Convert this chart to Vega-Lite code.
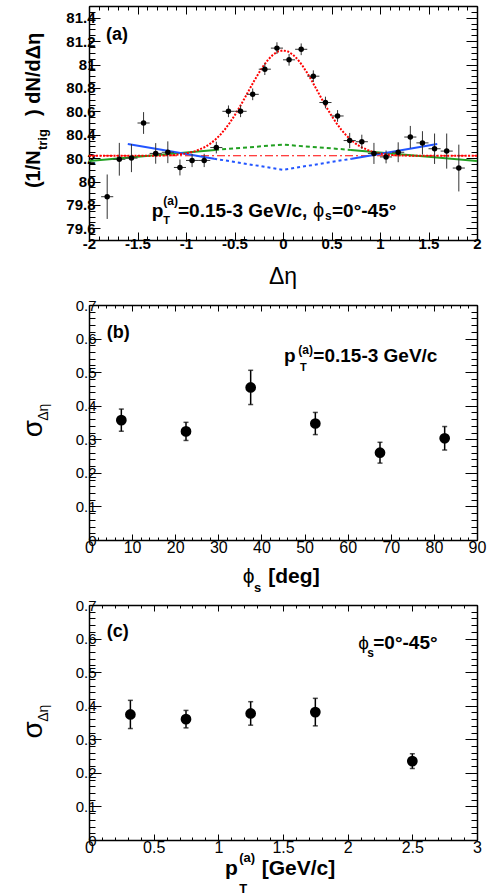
{
"$schema": "https://vega.github.io/schema/vega-lite/v6.json",
"autosize": {"type": "none"},
"padding": {"left": 89, "top": 6, "right": 406, "bottom": 890},
"spacing": 65,
"bounds": "flush",
"config": {
  "view": {"stroke": null},
  "axis": {"grid": false, "domainColor": "black", "domainWidth": 1.5, "tickColor": "black", "tickWidth": 1, "labelColor": "black", "labelFont": "Liberation Sans", "labelFlush": false, "labelOverlap": false, "zindex": 1}
},
"datasets": {
  "apts": [
    {"eta": -1.8125, "v": 79.87, "e": 0.19, "xe": 0.0625},
    {"eta": -1.6875, "v": 80.19, "e": 0.14, "xe": 0.0625},
    {"eta": -1.5625, "v": 80.20, "e": 0.12, "xe": 0.0625},
    {"eta": -1.4375, "v": 80.50, "e": 0.093, "xe": 0.0625},
    {"eta": -1.3125, "v": 80.24, "e": 0.088, "xe": 0.0625},
    {"eta": -1.1875, "v": 80.25, "e": 0.093, "xe": 0.0625},
    {"eta": -1.0625, "v": 80.12, "e": 0.068, "xe": 0.0625},
    {"eta": -0.9375, "v": 80.18, "e": 0.057, "xe": 0.0625},
    {"eta": -0.8125, "v": 80.18, "e": 0.057, "xe": 0.0625},
    {"eta": -0.6875, "v": 80.29, "e": 0.05, "xe": 0.0625},
    {"eta": -0.5625, "v": 80.60, "e": 0.05, "xe": 0.0625},
    {"eta": -0.4375, "v": 80.60, "e": 0.05, "xe": 0.0625},
    {"eta": -0.3125, "v": 80.745, "e": 0.05, "xe": 0.0625},
    {"eta": -0.1875, "v": 80.96, "e": 0.05, "xe": 0.0625},
    {"eta": -0.0625, "v": 81.14, "e": 0.05, "xe": 0.0625},
    {"eta": 0.0625, "v": 81.04, "e": 0.05, "xe": 0.0625},
    {"eta": 0.1875, "v": 81.13, "e": 0.05, "xe": 0.0625},
    {"eta": 0.3125, "v": 80.90, "e": 0.05, "xe": 0.0625},
    {"eta": 0.4375, "v": 80.675, "e": 0.05, "xe": 0.0625},
    {"eta": 0.5625, "v": 80.56, "e": 0.05, "xe": 0.0625},
    {"eta": 0.6875, "v": 80.35, "e": 0.065, "xe": 0.0625},
    {"eta": 0.8125, "v": 80.34, "e": 0.06, "xe": 0.0625},
    {"eta": 0.9375, "v": 80.24, "e": 0.09, "xe": 0.0625},
    {"eta": 1.0625, "v": 80.21, "e": 0.055, "xe": 0.0625},
    {"eta": 1.1875, "v": 80.25, "e": 0.085, "xe": 0.0625},
    {"eta": 1.3125, "v": 80.38, "e": 0.095, "xe": 0.0625},
    {"eta": 1.4375, "v": 80.33, "e": 0.1, "xe": 0.0625},
    {"eta": 1.5625, "v": 80.28, "e": 0.13, "xe": 0.0625},
    {"eta": 1.6875, "v": 80.26, "e": 0.15, "xe": 0.0625},
    {"eta": 1.8125, "v": 80.115, "e": 0.2, "xe": 0.0625}
  ],
  "acurves": [
    {"c": "const", "part": "all", "eta": -2, "v": 80.22},
    {"c": "const", "part": "all", "eta": 2, "v": 80.22},
    {"c": "fit", "part": "all", "eta": -2, "v": 80.22},
    {"c": "fit", "part": "all", "eta": -1.6, "v": 80.22},
    {"c": "fit", "part": "all", "eta": -1.3, "v": 80.221},
    {"c": "fit", "part": "all", "eta": -1.2, "v": 80.2235},
    {"c": "fit", "part": "all", "eta": -1.1, "v": 80.228},
    {"c": "fit", "part": "all", "eta": -1.0, "v": 80.239},
    {"c": "fit", "part": "all", "eta": -0.9, "v": 80.26},
    {"c": "fit", "part": "all", "eta": -0.8, "v": 80.296},
    {"c": "fit", "part": "all", "eta": -0.75, "v": 80.323},
    {"c": "fit", "part": "all", "eta": -0.7, "v": 80.356},
    {"c": "fit", "part": "all", "eta": -0.65, "v": 80.396},
    {"c": "fit", "part": "all", "eta": -0.6, "v": 80.444},
    {"c": "fit", "part": "all", "eta": -0.55, "v": 80.5},
    {"c": "fit", "part": "all", "eta": -0.5, "v": 80.563},
    {"c": "fit", "part": "all", "eta": -0.45, "v": 80.632},
    {"c": "fit", "part": "all", "eta": -0.4, "v": 80.705},
    {"c": "fit", "part": "all", "eta": -0.35, "v": 80.781},
    {"c": "fit", "part": "all", "eta": -0.3, "v": 80.856},
    {"c": "fit", "part": "all", "eta": -0.25, "v": 80.927},
    {"c": "fit", "part": "all", "eta": -0.2, "v": 80.991},
    {"c": "fit", "part": "all", "eta": -0.15, "v": 81.045},
    {"c": "fit", "part": "all", "eta": -0.1, "v": 81.086},
    {"c": "fit", "part": "all", "eta": -0.05, "v": 81.111},
    {"c": "fit", "part": "all", "eta": 0, "v": 81.12},
    {"c": "fit", "part": "all", "eta": 0.05, "v": 81.111},
    {"c": "fit", "part": "all", "eta": 0.1, "v": 81.086},
    {"c": "fit", "part": "all", "eta": 0.15, "v": 81.045},
    {"c": "fit", "part": "all", "eta": 0.2, "v": 80.991},
    {"c": "fit", "part": "all", "eta": 0.25, "v": 80.927},
    {"c": "fit", "part": "all", "eta": 0.3, "v": 80.856},
    {"c": "fit", "part": "all", "eta": 0.35, "v": 80.781},
    {"c": "fit", "part": "all", "eta": 0.4, "v": 80.705},
    {"c": "fit", "part": "all", "eta": 0.45, "v": 80.632},
    {"c": "fit", "part": "all", "eta": 0.5, "v": 80.563},
    {"c": "fit", "part": "all", "eta": 0.55, "v": 80.5},
    {"c": "fit", "part": "all", "eta": 0.6, "v": 80.444},
    {"c": "fit", "part": "all", "eta": 0.65, "v": 80.396},
    {"c": "fit", "part": "all", "eta": 0.7, "v": 80.356},
    {"c": "fit", "part": "all", "eta": 0.75, "v": 80.323},
    {"c": "fit", "part": "all", "eta": 0.8, "v": 80.296},
    {"c": "fit", "part": "all", "eta": 0.9, "v": 80.26},
    {"c": "fit", "part": "all", "eta": 1.0, "v": 80.239},
    {"c": "fit", "part": "all", "eta": 1.1, "v": 80.228},
    {"c": "fit", "part": "all", "eta": 1.2, "v": 80.2235},
    {"c": "fit", "part": "all", "eta": 1.3, "v": 80.221},
    {"c": "fit", "part": "all", "eta": 1.6, "v": 80.22},
    {"c": "fit", "part": "all", "eta": 2, "v": 80.22},
    {"c": "green", "part": "outL", "eta": -2, "v": 80.175},
    {"c": "green", "part": "outL", "eta": -0.7, "v": 80.27},
    {"c": "green", "part": "in", "eta": -0.7, "v": 80.27},
    {"c": "green", "part": "in", "eta": 0, "v": 80.315},
    {"c": "green", "part": "in", "eta": 0.7, "v": 80.27},
    {"c": "green", "part": "outR", "eta": 0.7, "v": 80.27},
    {"c": "green", "part": "outR", "eta": 2, "v": 80.175},
    {"c": "blue", "part": "outL", "eta": -1.6, "v": 80.32},
    {"c": "blue", "part": "outL", "eta": -0.71, "v": 80.195},
    {"c": "blue", "part": "in", "eta": -0.71, "v": 80.195},
    {"c": "blue", "part": "in", "eta": 0, "v": 80.1},
    {"c": "blue", "part": "in", "eta": 0.71, "v": 80.195},
    {"c": "blue", "part": "outR", "eta": 0.71, "v": 80.195},
    {"c": "blue", "part": "outR", "eta": 1.59, "v": 80.32}
  ],
  "bpts": [
    {"phi": 7.5, "s": 0.357, "e": 0.033},
    {"phi": 22.5, "s": 0.3235, "e": 0.027},
    {"phi": 37.5, "s": 0.4545, "e": 0.051},
    {"phi": 52.5, "s": 0.347, "e": 0.033},
    {"phi": 67.5, "s": 0.26, "e": 0.031},
    {"phi": 82.5, "s": 0.303, "e": 0.035}
  ],
  "cpts": [
    {"pt": 0.32, "s": 0.374, "e": 0.042},
    {"pt": 0.75, "s": 0.36, "e": 0.026},
    {"pt": 1.25, "s": 0.377, "e": 0.035},
    {"pt": 1.75, "s": 0.381, "e": 0.041},
    {"pt": 2.5, "s": 0.235, "e": 0.022}
  ]
},
"vconcat": [
{
  "width": 388, "height": 234,
  "resolve": {"axis": {"x": "independent", "y": "independent"}},
  "layer": [
    {"data": {"name": "acurves"}, "transform": [{"filter": "datum.c == 'const'"}],
     "mark": {"type": "line", "color": "#ff0000", "strokeWidth": 1, "strokeDash": [8, 3, 2, 3]},
     "encoding": {"x": {"field": "eta", "type": "quantitative", "scale": {"domain": [-2, 2], "nice": false, "zero": false}, "axis": null},
                  "y": {"field": "v", "type": "quantitative", "scale": {"domain": [79.5, 81.5], "nice": false, "zero": false}, "axis": null}}},
    {"data": {"name": "acurves"}, "transform": [{"filter": "datum.c == 'green' && datum.part != 'in'"}],
     "mark": {"type": "line", "color": "#22a022", "strokeWidth": 2},
     "encoding": {"x": {"field": "eta", "type": "quantitative", "scale": {"domain": [-2, 2], "nice": false, "zero": false}, "axis": null},
                  "y": {"field": "v", "type": "quantitative", "scale": {"domain": [79.5, 81.5], "nice": false, "zero": false}, "axis": null},
                  "detail": {"field": "part"}}},
    {"data": {"name": "acurves"}, "transform": [{"filter": "datum.c == 'green' && datum.part == 'in'"}],
     "mark": {"type": "line", "color": "#22a022", "strokeWidth": 2, "strokeDash": [4, 3]},
     "encoding": {"x": {"field": "eta", "type": "quantitative", "scale": {"domain": [-2, 2], "nice": false, "zero": false}, "axis": null},
                  "y": {"field": "v", "type": "quantitative", "scale": {"domain": [79.5, 81.5], "nice": false, "zero": false}, "axis": null}}},
    {"data": {"name": "acurves"}, "transform": [{"filter": "datum.c == 'blue' && datum.part != 'in'"}],
     "mark": {"type": "line", "color": "#2255ff", "strokeWidth": 2},
     "encoding": {"x": {"field": "eta", "type": "quantitative", "scale": {"domain": [-2, 2], "nice": false, "zero": false}, "axis": null},
                  "y": {"field": "v", "type": "quantitative", "scale": {"domain": [79.5, 81.5], "nice": false, "zero": false}, "axis": null},
                  "detail": {"field": "part"}}},
    {"data": {"name": "acurves"}, "transform": [{"filter": "datum.c == 'blue' && datum.part == 'in'"}],
     "mark": {"type": "line", "color": "#2255ff", "strokeWidth": 2, "strokeDash": [3, 3]},
     "encoding": {"x": {"field": "eta", "type": "quantitative", "scale": {"domain": [-2, 2], "nice": false, "zero": false}, "axis": null},
                  "y": {"field": "v", "type": "quantitative", "scale": {"domain": [79.5, 81.5], "nice": false, "zero": false}, "axis": null}}},
    {"data": {"name": "acurves"}, "transform": [{"filter": "datum.c == 'fit'"}],
     "mark": {"type": "line", "color": "#ff0000", "strokeWidth": 2, "strokeDash": [2, 1.5]},
     "encoding": {"x": {"field": "eta", "type": "quantitative", "scale": {"domain": [-2, 2], "nice": false, "zero": false},
                        "axis": {"orient": "top", "title": null, "labels": false, "domain": false, "tickSize": -4, "values": [-2,-1.9,-1.8,-1.7,-1.6,-1.5,-1.4,-1.3,-1.2,-1.1,-1,-0.9,-0.8,-0.7,-0.6,-0.5,-0.4,-0.3,-0.2,-0.1,0,0.1,0.2,0.3,0.4,0.5,0.6,0.7,0.8,0.9,1,1.1,1.2,1.3,1.4,1.5,1.6,1.7,1.8,1.9,2]}},
                  "y": {"field": "v", "type": "quantitative", "scale": {"domain": [79.5, 81.5], "nice": false, "zero": false},
                        "axis": {"orient": "right", "title": null, "labels": false, "domain": false, "tickSize": -6, "values": [79.5,79.55,79.6,79.65,79.7,79.75,79.8,79.85,79.9,79.95,80,80.05,80.1,80.15,80.2,80.25,80.3,80.35,80.4,80.45,80.5,80.55,80.6,80.65,80.7,80.75,80.8,80.85,80.9,80.95,81,81.05,81.1,81.15,81.2,81.25,81.3,81.35,81.4,81.45,81.5]}}}},
    {"data": {"name": "apts"},
     "mark": {"type": "errorbar", "color": "#333333", "thickness": 1},
     "encoding": {"x": {"field": "eta", "type": "quantitative", "scale": {"domain": [-2, 2], "nice": false, "zero": false},
                        "axis": {"orient": "top", "title": null, "labels": false, "tickSize": -8, "values": [-2,-1.5,-1,-0.5,0,0.5,1,1.5,2]}},
                  "y": {"field": "v", "type": "quantitative", "scale": {"domain": [79.5, 81.5], "nice": false, "zero": false},
                        "axis": {"orient": "right", "title": null, "labels": false, "tickSize": -11, "values": [79.6,79.8,80,80.2,80.4,80.6,80.8,81,81.2,81.4]}},
                  "yError": {"field": "e"}}},
    {"data": {"name": "apts"},
     "mark": {"type": "errorbar", "color": "#333333", "thickness": 1},
     "encoding": {"x": {"field": "eta", "type": "quantitative", "scale": {"domain": [-2, 2], "nice": false, "zero": false},
                        "axis": {"orient": "bottom", "title": null, "labels": false, "domain": false, "tickSize": -4, "values": [-2,-1.9,-1.8,-1.7,-1.6,-1.5,-1.4,-1.3,-1.2,-1.1,-1,-0.9,-0.8,-0.7,-0.6,-0.5,-0.4,-0.3,-0.2,-0.1,0,0.1,0.2,0.3,0.4,0.5,0.6,0.7,0.8,0.9,1,1.1,1.2,1.3,1.4,1.5,1.6,1.7,1.8,1.9,2]}},
                  "xError": {"field": "xe"},
                  "y": {"field": "v", "type": "quantitative", "scale": {"domain": [79.5, 81.5], "nice": false, "zero": false},
                        "axis": {"orient": "left", "title": null, "labels": false, "domain": false, "tickSize": -6, "values": [79.5,79.55,79.6,79.65,79.7,79.75,79.8,79.85,79.9,79.95,80,80.05,80.1,80.15,80.2,80.25,80.3,80.35,80.4,80.45,80.5,80.55,80.6,80.65,80.7,80.75,80.8,80.85,80.9,80.95,81,81.05,81.1,81.15,81.2,81.25,81.3,81.35,81.4,81.45,81.5]}}}},
    {"data": {"name": "apts"},
     "mark": {"type": "circle", "color": "black", "size": 30, "opacity": 1},
     "encoding": {"x": {"field": "eta", "type": "quantitative", "scale": {"domain": [-2, 2], "nice": false, "zero": false},
                        "axis": {"orient": "bottom", "title": null, "tickSize": -8, "labelFontSize": 15, "labelFontWeight": "bold", "labelPadding": 4, "labelExpr": "datum.value + ''", "values": [-2,-1.5,-1,-0.5,0,0.5,1,1.5,2]}},
                  "y": {"field": "v", "type": "quantitative", "scale": {"domain": [79.5, 81.5], "nice": false, "zero": false},
                        "axis": {"orient": "left", "title": null, "tickSize": -11, "labelFontSize": 15, "labelFontWeight": "bold", "labelPadding": 5, "labelExpr": "datum.value + ''", "values": [79.6,79.8,80,80.2,80.4,80.6,80.8,81,81.2,81.4]}}}},
    {"data": {"values": [{"k": 1}]}, "mark": {"type": "text", "text": "(a)", "font": "Liberation Sans", "fontSize": 18, "fontWeight": "bold", "align": "left", "baseline": "alphabetic", "color": "black"},
     "encoding": {"x": {"datum": -1.825, "type": "quantitative", "axis": null}, "y": {"datum": 81.21, "type": "quantitative", "axis": null}}},
    {"data": {"values": [{"k": 1}]}, "mark": {"type": "text", "text": "p", "font": "Liberation Sans", "fontSize": 19, "fontWeight": "bold", "align": "left", "baseline": "alphabetic", "color": "black"},
     "encoding": {"x": {"datum": -1.354, "type": "quantitative", "axis": null}, "y": {"datum": 79.699, "type": "quantitative", "axis": null}}},
    {"data": {"values": [{"k": 1}]}, "mark": {"type": "text", "text": "(a)", "font": "Liberation Sans", "fontSize": 12, "fontWeight": "bold", "align": "left", "baseline": "alphabetic", "color": "black"},
     "encoding": {"x": {"datum": -1.234, "type": "quantitative", "axis": null}, "y": {"datum": 79.799, "type": "quantitative", "axis": null}}},
    {"data": {"values": [{"k": 1}]}, "mark": {"type": "text", "text": "T", "font": "Liberation Sans", "fontSize": 11, "fontWeight": "bold", "align": "left", "baseline": "alphabetic", "color": "black"},
     "encoding": {"x": {"datum": -1.234, "type": "quantitative", "axis": null}, "y": {"datum": 79.637, "type": "quantitative", "axis": null}}},
    {"data": {"values": [{"k": 1}]}, "mark": {"type": "text", "text": "=0.15-3 GeV/c,", "font": "Liberation Sans", "fontSize": 19, "fontWeight": "bold", "align": "left", "baseline": "alphabetic", "color": "black"},
     "encoding": {"x": {"datum": -1.0825, "type": "quantitative", "axis": null}, "y": {"datum": 79.699, "type": "quantitative", "axis": null}}},
    {"data": {"values": [{"k": 1}]}, "mark": {"type": "text", "text": "ϕ", "font": "Liberation Sans", "fontSize": 20, "align": "left", "baseline": "alphabetic", "color": "black"},
     "encoding": {"x": {"datum": 0.309, "type": "quantitative", "axis": null}, "y": {"datum": 79.699, "type": "quantitative", "axis": null}}},
    {"data": {"values": [{"k": 1}]}, "mark": {"type": "text", "text": "s", "font": "Liberation Sans", "fontSize": 12, "fontWeight": "bold", "align": "left", "baseline": "alphabetic", "color": "black"},
     "encoding": {"x": {"datum": 0.433, "type": "quantitative", "axis": null}, "y": {"datum": 79.671, "type": "quantitative", "axis": null}}},
    {"data": {"values": [{"k": 1}]}, "mark": {"type": "text", "text": "=0°-45°", "font": "Liberation Sans", "fontSize": 19, "fontWeight": "bold", "align": "left", "baseline": "alphabetic", "color": "black"},
     "encoding": {"x": {"datum": 0.505, "type": "quantitative", "axis": null}, "y": {"datum": 79.699, "type": "quantitative", "axis": null}}},
    {"data": {"values": [{"k": 1}]}, "mark": {"type": "text", "text": "Δη", "font": "Liberation Sans", "fontSize": 23, "align": "center", "baseline": "alphabetic", "color": "black"},
     "encoding": {"x": {"datum": 0, "type": "quantitative", "axis": null}, "y": {"datum": 79.12, "type": "quantitative", "axis": null}}},
    {"data": {"values": [{"k": 1}]}, "mark": {"type": "text", "text": "(1/N", "font": "Liberation Sans", "fontSize": 20, "fontWeight": "bold", "align": "left", "baseline": "alphabetic", "angle": 270, "color": "black"},
     "encoding": {"x": {"datum": -2.505, "type": "quantitative", "axis": null}, "y": {"datum": 79.944, "type": "quantitative", "axis": null}}},
    {"data": {"values": [{"k": 1}]}, "mark": {"type": "text", "text": "trig", "font": "Liberation Sans", "fontSize": 13, "fontWeight": "bold", "align": "left", "baseline": "alphabetic", "angle": 270, "color": "black"},
     "encoding": {"x": {"datum": -2.433, "type": "quantitative", "axis": null}, "y": {"datum": 80.269, "type": "quantitative", "axis": null}}},
    {"data": {"values": [{"k": 1}]}, "mark": {"type": "text", "text": ") dN/dΔη", "font": "Liberation Sans", "fontSize": 20, "fontWeight": "bold", "align": "left", "baseline": "alphabetic", "angle": 270, "color": "black"},
     "encoding": {"x": {"datum": -2.505, "type": "quantitative", "axis": null}, "y": {"datum": 80.56, "type": "quantitative", "axis": null}}}
  ]
},
{
  "width": 388, "height": 235,
  "resolve": {"axis": {"x": "independent", "y": "independent"}},
  "layer": [
    {"data": {"name": "bpts"},
     "mark": {"type": "errorbar", "color": "black", "thickness": 1.5, "ticks": {"size": 5, "thickness": 1.5}},
     "encoding": {"x": {"field": "phi", "type": "quantitative", "scale": {"domain": [0, 90], "nice": false, "zero": false},
                        "axis": {"orient": "bottom", "title": null, "tickSize": -6, "labelFontSize": 16, "labelPadding": 5, "labelExpr": "datum.value + ''", "values": [0,10,20,30,40,50,60,70,80,90]}},
                  "y": {"field": "s", "type": "quantitative", "scale": {"domain": [0, 0.7], "nice": false, "zero": false},
                        "axis": {"orient": "left", "title": null, "tickSize": -12, "labelFontSize": 15, "labelPadding": 5, "labelExpr": "datum.value + ''", "values": [0,0.1,0.2,0.3,0.4,0.5,0.6,0.7]}},
                  "yError": {"field": "e"}}},
    {"data": {"name": "bpts"},
     "mark": {"type": "circle", "color": "black", "size": 115, "opacity": 1},
     "encoding": {"x": {"field": "phi", "type": "quantitative", "scale": {"domain": [0, 90], "nice": false, "zero": false},
                        "axis": {"orient": "top", "title": null, "labels": false, "tickSize": -6, "values": [0,10,20,30,40,50,60,70,80,90]}},
                  "y": {"field": "s", "type": "quantitative", "scale": {"domain": [0, 0.7], "nice": false, "zero": false},
                        "axis": {"orient": "right", "title": null, "labels": false, "tickSize": -12, "values": [0,0.1,0.2,0.3,0.4,0.5,0.6,0.7]}}}},
    {"data": {"values": [{"k": 1}]}, "mark": {"type": "text", "text": "(b)", "font": "Liberation Sans", "fontSize": 18, "fontWeight": "bold", "align": "left", "baseline": "alphabetic", "color": "black"},
     "encoding": {"x": {"datum": 4.1, "type": "quantitative", "scale": {"domain": [0, 90], "nice": false, "zero": false},
                        "axis": {"orient": "bottom", "title": null, "labels": false, "domain": false, "tickSize": -3, "values": [0,2,4,6,8,10,12,14,16,18,20,22,24,26,28,30,32,34,36,38,40,42,44,46,48,50,52,54,56,58,60,62,64,66,68,70,72,74,76,78,80,82,84,86,88,90]}},
                  "y": {"datum": 0.601, "type": "quantitative", "scale": {"domain": [0, 0.7], "nice": false, "zero": false},
                        "axis": {"orient": "left", "title": null, "labels": false, "domain": false, "tickSize": -6, "values": [0,0.02,0.04,0.06,0.08,0.1,0.12,0.14,0.16,0.18,0.2,0.22,0.24,0.26,0.28,0.3,0.32,0.34,0.36,0.38,0.4,0.42,0.44,0.46,0.48,0.5,0.52,0.54,0.56,0.58,0.6,0.62,0.64,0.66,0.68,0.7]}}}},
    {"data": {"values": [{"k": 1}]}, "mark": {"type": "text", "text": "p", "font": "Liberation Sans", "fontSize": 19, "fontWeight": "bold", "align": "left", "baseline": "alphabetic", "color": "black"},
     "encoding": {"x": {"datum": 45.23, "type": "quantitative", "scale": {"domain": [0, 90], "nice": false, "zero": false},
                        "axis": {"orient": "top", "title": null, "labels": false, "domain": false, "tickSize": -3, "values": [0,2,4,6,8,10,12,14,16,18,20,22,24,26,28,30,32,34,36,38,40,42,44,46,48,50,52,54,56,58,60,62,64,66,68,70,72,74,76,78,80,82,84,86,88,90]}},
                  "y": {"datum": 0.529, "type": "quantitative", "scale": {"domain": [0, 0.7], "nice": false, "zero": false},
                        "axis": {"orient": "right", "title": null, "labels": false, "domain": false, "tickSize": -6, "values": [0,0.02,0.04,0.06,0.08,0.1,0.12,0.14,0.16,0.18,0.2,0.22,0.24,0.26,0.28,0.3,0.32,0.34,0.36,0.38,0.4,0.42,0.44,0.46,0.48,0.5,0.52,0.54,0.56,0.58,0.6,0.62,0.64,0.66,0.68,0.7]}}}},
    {"data": {"values": [{"k": 1}]}, "mark": {"type": "text", "text": "(a)", "font": "Liberation Sans", "fontSize": 12, "fontWeight": "bold", "align": "left", "baseline": "alphabetic", "color": "black"},
     "encoding": {"x": {"datum": 48.55, "type": "quantitative", "axis": null}, "y": {"datum": 0.5536, "type": "quantitative", "axis": null}}},
    {"data": {"values": [{"k": 1}]}, "mark": {"type": "text", "text": "T", "font": "Liberation Sans", "fontSize": 11, "fontWeight": "bold", "align": "left", "baseline": "alphabetic", "color": "black"},
     "encoding": {"x": {"datum": 48.94, "type": "quantitative", "axis": null}, "y": {"datum": 0.504, "type": "quantitative", "axis": null}}},
    {"data": {"values": [{"k": 1}]}, "mark": {"type": "text", "text": "=0.15-3 GeV/c", "font": "Liberation Sans", "fontSize": 19, "fontWeight": "bold", "align": "left", "baseline": "alphabetic", "color": "black"},
     "encoding": {"x": {"datum": 52.03, "type": "quantitative", "axis": null}, "y": {"datum": 0.529, "type": "quantitative", "axis": null}}},
    {"data": {"values": [{"k": 1}]}, "mark": {"type": "text", "text": "σ", "font": "Liberation Sans", "fontSize": 28, "align": "left", "baseline": "alphabetic", "angle": 270, "color": "black"},
     "encoding": {"x": {"datum": -10.97, "type": "quantitative", "axis": null}, "y": {"datum": 0.3057, "type": "quantitative", "axis": null}}},
    {"data": {"values": [{"k": 1}]}, "mark": {"type": "text", "text": "Δη", "font": "Liberation Sans", "fontSize": 14, "align": "left", "baseline": "alphabetic", "angle": 270, "color": "black"},
     "encoding": {"x": {"datum": -9.51, "type": "quantitative", "axis": null}, "y": {"datum": 0.355, "type": "quantitative", "axis": null}}},
    {"data": {"values": [{"k": 1}]}, "mark": {"type": "text", "text": "ϕ", "font": "Liberation Sans", "fontSize": 21, "align": "left", "baseline": "alphabetic", "color": "black"},
     "encoding": {"x": {"datum": 35.65, "type": "quantitative", "axis": null}, "y": {"datum": -0.128, "type": "quantitative", "axis": null}}},
    {"data": {"values": [{"k": 1}]}, "mark": {"type": "text", "text": "s", "font": "Liberation Sans", "fontSize": 13, "fontWeight": "bold", "align": "left", "baseline": "alphabetic", "color": "black"},
     "encoding": {"x": {"datum": 38.27, "type": "quantitative", "axis": null}, "y": {"datum": -0.154, "type": "quantitative", "axis": null}}},
    {"data": {"values": [{"k": 1}]}, "mark": {"type": "text", "text": "[deg]", "font": "Liberation Sans", "fontSize": 21, "fontWeight": "bold", "align": "left", "baseline": "alphabetic", "color": "black"},
     "encoding": {"x": {"datum": 41.59, "type": "quantitative", "axis": null}, "y": {"datum": -0.128, "type": "quantitative", "axis": null}}}
  ]
},
{
  "width": 388, "height": 235,
  "resolve": {"axis": {"x": "independent", "y": "independent"}},
  "layer": [
    {"data": {"name": "cpts"},
     "mark": {"type": "errorbar", "color": "black", "thickness": 1.5, "ticks": {"size": 5, "thickness": 1.5}},
     "encoding": {"x": {"field": "pt", "type": "quantitative", "scale": {"domain": [0, 3], "nice": false, "zero": false},
                        "axis": {"orient": "bottom", "title": null, "tickSize": -6, "labelFontSize": 16, "labelPadding": 5, "labelExpr": "datum.value + ''", "values": [0,0.5,1,1.5,2,2.5,3]}},
                  "y": {"field": "s", "type": "quantitative", "scale": {"domain": [0, 0.7], "nice": false, "zero": false},
                        "axis": {"orient": "left", "title": null, "tickSize": -12, "labelFontSize": 15, "labelPadding": 5, "labelExpr": "datum.value + ''", "values": [0,0.1,0.2,0.3,0.4,0.5,0.6,0.7]}},
                  "yError": {"field": "e"}}},
    {"data": {"name": "cpts"},
     "mark": {"type": "circle", "color": "black", "size": 115, "opacity": 1},
     "encoding": {"x": {"field": "pt", "type": "quantitative", "scale": {"domain": [0, 3], "nice": false, "zero": false},
                        "axis": {"orient": "top", "title": null, "labels": false, "tickSize": -6, "values": [0,0.5,1,1.5,2,2.5,3]}},
                  "y": {"field": "s", "type": "quantitative", "scale": {"domain": [0, 0.7], "nice": false, "zero": false},
                        "axis": {"orient": "right", "title": null, "labels": false, "tickSize": -12, "values": [0,0.1,0.2,0.3,0.4,0.5,0.6,0.7]}}}},
    {"data": {"values": [{"k": 1}]}, "mark": {"type": "text", "text": "(c)", "font": "Liberation Sans", "fontSize": 18, "fontWeight": "bold", "align": "left", "baseline": "alphabetic", "color": "black"},
     "encoding": {"x": {"datum": 0.137, "type": "quantitative", "scale": {"domain": [0, 3], "nice": false, "zero": false},
                        "axis": {"orient": "bottom", "title": null, "labels": false, "domain": false, "tickSize": -3, "values": [0,0.1,0.2,0.3,0.4,0.5,0.6,0.7,0.8,0.9,1,1.1,1.2,1.3,1.4,1.5,1.6,1.7,1.8,1.9,2,2.1,2.2,2.3,2.4,2.5,2.6,2.7,2.8,2.9,3]}},
                  "y": {"datum": 0.605, "type": "quantitative", "scale": {"domain": [0, 0.7], "nice": false, "zero": false},
                        "axis": {"orient": "left", "title": null, "labels": false, "domain": false, "tickSize": -6, "values": [0,0.02,0.04,0.06,0.08,0.1,0.12,0.14,0.16,0.18,0.2,0.22,0.24,0.26,0.28,0.3,0.32,0.34,0.36,0.38,0.4,0.42,0.44,0.46,0.48,0.5,0.52,0.54,0.56,0.58,0.6,0.62,0.64,0.66,0.68,0.7]}}}},
    {"data": {"values": [{"k": 1}]}, "mark": {"type": "text", "text": "ϕ", "font": "Liberation Sans", "fontSize": 19, "align": "left", "baseline": "alphabetic", "color": "black"},
     "encoding": {"x": {"datum": 2.082, "type": "quantitative", "scale": {"domain": [0, 3], "nice": false, "zero": false},
                        "axis": {"orient": "top", "title": null, "labels": false, "domain": false, "tickSize": -3, "values": [0,0.1,0.2,0.3,0.4,0.5,0.6,0.7,0.8,0.9,1,1.1,1.2,1.3,1.4,1.5,1.6,1.7,1.8,1.9,2,2.1,2.2,2.3,2.4,2.5,2.6,2.7,2.8,2.9,3]}},
                  "y": {"datum": 0.5675, "type": "quantitative", "scale": {"domain": [0, 0.7], "nice": false, "zero": false},
                        "axis": {"orient": "right", "title": null, "labels": false, "domain": false, "tickSize": -6, "values": [0,0.02,0.04,0.06,0.08,0.1,0.12,0.14,0.16,0.18,0.2,0.22,0.24,0.26,0.28,0.3,0.32,0.34,0.36,0.38,0.4,0.42,0.44,0.46,0.48,0.5,0.52,0.54,0.56,0.58,0.6,0.62,0.64,0.66,0.68,0.7]}}}},
    {"data": {"values": [{"k": 1}]}, "mark": {"type": "text", "text": "s", "font": "Liberation Sans", "fontSize": 12, "fontWeight": "bold", "align": "left", "baseline": "alphabetic", "color": "black"},
     "encoding": {"x": {"datum": 2.152, "type": "quantitative", "axis": null}, "y": {"datum": 0.5437, "type": "quantitative", "axis": null}}},
    {"data": {"values": [{"k": 1}]}, "mark": {"type": "text", "text": "=0°-45°", "font": "Liberation Sans", "fontSize": 19, "fontWeight": "bold", "align": "left", "baseline": "alphabetic", "color": "black"},
     "encoding": {"x": {"datum": 2.198, "type": "quantitative", "axis": null}, "y": {"datum": 0.5675, "type": "quantitative", "axis": null}}},
    {"data": {"values": [{"k": 1}]}, "mark": {"type": "text", "text": "σ", "font": "Liberation Sans", "fontSize": 28, "align": "left", "baseline": "alphabetic", "angle": 270, "color": "black"},
     "encoding": {"x": {"datum": -0.3657, "type": "quantitative", "axis": null}, "y": {"datum": 0.3027, "type": "quantitative", "axis": null}}},
    {"data": {"values": [{"k": 1}]}, "mark": {"type": "text", "text": "Δη", "font": "Liberation Sans", "fontSize": 14, "align": "left", "baseline": "alphabetic", "angle": 270, "color": "black"},
     "encoding": {"x": {"datum": -0.317, "type": "quantitative", "axis": null}, "y": {"datum": 0.352, "type": "quantitative", "axis": null}}},
    {"data": {"values": [{"k": 1}]}, "mark": {"type": "text", "text": "p", "font": "Liberation Sans", "fontSize": 21, "fontWeight": "bold", "align": "left", "baseline": "alphabetic", "color": "black"},
     "encoding": {"x": {"datum": 1.052, "type": "quantitative", "axis": null}, "y": {"datum": -0.104, "type": "quantitative", "axis": null}}},
    {"data": {"values": [{"k": 1}]}, "mark": {"type": "text", "text": "(a)", "font": "Liberation Sans", "fontSize": 13, "fontWeight": "bold", "align": "left", "baseline": "alphabetic", "color": "black"},
     "encoding": {"x": {"datum": 1.162, "type": "quantitative", "axis": null}, "y": {"datum": -0.0646, "type": "quantitative", "axis": null}}},
    {"data": {"values": [{"k": 1}]}, "mark": {"type": "text", "text": "T", "font": "Liberation Sans", "fontSize": 13, "fontWeight": "bold", "align": "left", "baseline": "alphabetic", "color": "black"},
     "encoding": {"x": {"datum": 1.162, "type": "quantitative", "axis": null}, "y": {"datum": -0.158, "type": "quantitative", "axis": null}}},
    {"data": {"values": [{"k": 1}]}, "mark": {"type": "text", "text": "[GeV/c]", "font": "Liberation Sans", "fontSize": 21, "fontWeight": "bold", "align": "left", "baseline": "alphabetic", "color": "black"},
     "encoding": {"x": {"datum": 1.335, "type": "quantitative", "axis": null}, "y": {"datum": -0.104, "type": "quantitative", "axis": null}}}
  ]
}
]
}
